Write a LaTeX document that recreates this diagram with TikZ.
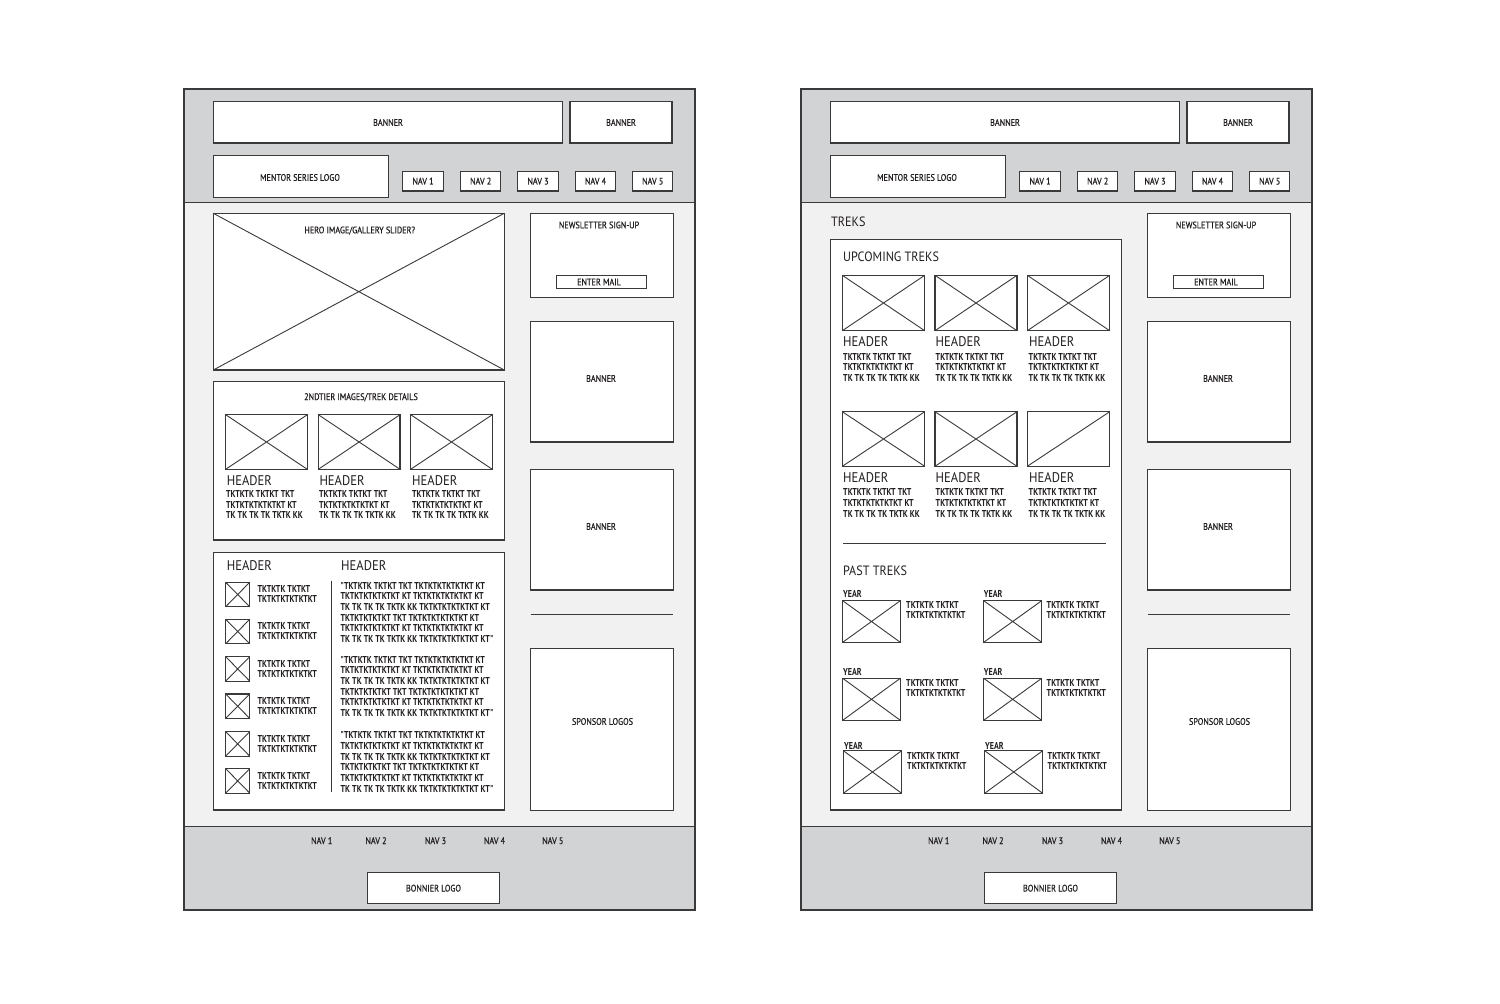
\documentclass[tikz,border=0pt]{standalone}
\usepackage{fontspec}
\setmainfont{PT Sans}[FakeStretch=0.88]
\newfontfamily\labf{PT Sans}[FakeStretch=0.86,FakeBold=0.6]
\newfontfamily\tkf{PT Sans}[FakeStretch=0.8]
\newfontfamily\hdf{PT Sans}[FakeStretch=0.9]
\definecolor{band}{HTML}{D1D3D4}
\definecolor{bgc}{HTML}{F1F1F2}
\definecolor{ink}{HTML}{231F20}
\definecolor{edge}{HTML}{3A3A3A}
\tikzset{
  wb/.style={draw=edge, fill=white, line width=1.1pt, inner sep=0pt, outer sep=0pt, text=ink, font=\labf\fontsize{9.5}{10}\selectfont},
  xl/.style={draw=edge, line width=0.9pt},
  sep/.style={draw=edge, line width=1pt},
  outerbox/.style={draw=edge, line width=1.2pt},
  lab/.style={inner sep=0pt, text=ink, font=\labf\fontsize{9.5}{10}\selectfont, anchor=base},
  tk/.style={inner sep=0pt, text=ink, font=\tkf\bfseries\fontsize{10}{10}\selectfont, anchor=base west},
  hd/.style={inner sep=0pt, text=ink, font=\hdf\fontsize{14}{15}\selectfont, anchor=base west},
  ttl/.style={inner sep=0pt, text=ink, font=\hdf\fontsize{13.5}{15}\selectfont, anchor=base west}
}
\newcommand\bx[6]{\node[wb,minimum width=#4pt-#2pt,minimum height=#5pt-#3pt] (#1) at ({(#2+#4)/2},{(#3+#5)/2}) {#6};}
\newcommand\ph[5]{\bx{#1}{#2}{#3}{#4}{#5}{}\draw[xl] (#1.north west)--(#1.south east) (#1.south west)--(#1.north east);}
\newcommand\phone[5]{\bx{#1}{#2}{#3}{#4}{#5}{}\draw[xl] (#1.south west)--(#1.north east);}
\newcommand\tl[6]{\foreach \s [count=\i] in {#6} \node[#1] (#2-\i) at (#3,{#4+(\i-1)*#5}) {\s};}
\newcommand\pg[2]{%
\begin{scope}[xshift=#2pt]
\fill[band] (184,89) rectangle (695,910);
\fill[bgc] (184,202) rectangle (695,826.5);
\draw[sep] (184,202)--(695,202) (184,826.5)--(695,826.5);
\bx{#1ban1}{213.3}{101.7}{562.7}{143}{}
\node[lab] (#1ban1t) at (388,125.8) {BANNER};
\bx{#1ban2}{570}{101.7}{672}{143}{}
\node[lab] (#1ban2t) at (621,125.8) {BANNER};
\bx{#1logo}{213.3}{155.7}{388.7}{197.3}{}
\node[lab] (#1logot) at (300,180.8) {MENTOR SERIES LOGO};
\bx{#1n1}{402.7}{171.3}{443.3}{191}{NAV 1}
\bx{#1n2}{460.7}{171.3}{500.7}{191}{NAV 2}
\bx{#1n3}{517.7}{171.3}{558.3}{191}{NAV 3}
\bx{#1n4}{575.3}{171.3}{615.7}{191}{NAV 4}
\bx{#1n5}{632.7}{171.3}{672.7}{191}{NAV 5}
\bx{#1news}{530.7}{213.3}{673.3}{297.3}{}
\node[lab] (#1newst) at (599,228.3) {NEWSLETTER SIGN-UP};
\bx{#1mail}{556.7}{275.7}{646.7}{288.3}{}
\node[lab] (#1mailt) at (599,285.3) {ENTER MAIL};
\bx{#1sb1}{530.7}{321.7}{673.3}{442}{}
\node[lab] (#1sb1t) at (601,381.8) {BANNER};
\bx{#1sb2}{530.7}{469.7}{673.3}{590}{}
\node[lab] (#1sb2t) at (601,529.8) {BANNER};
\coordinate (#1hra) at (530.7,614.3);
\coordinate (#1hrb) at (673.3,614.3);
\draw[sep] (#1hra)--(#1hrb);
\bx{#1spons}{530.7}{648.7}{673.3}{810.3}{}
\node[lab] (#1sponst) at (602.5,724.8) {SPONSOR LOGOS};
\node[lab] (#1f1) at (321.7,844) {NAV 1};
\node[lab] (#1f2) at (376,844) {NAV 2};
\node[lab] (#1f3) at (435.5,844) {NAV 3};
\node[lab] (#1f4) at (494.5,844) {NAV 4};
\node[lab] (#1f5) at (552.8,844) {NAV 5};
\bx{#1bon}{367.7}{872.3}{499.3}{903.7}{}
\node[lab] (#1bont) at (433.5,891.5) {BONNIER LOGO};
\draw[outerbox] (184,89) rectangle (695,910);
\end{scope}}
\begin{document}
\begin{tikzpicture}[x=1pt,y=-1pt]
\useasboundingbox (0,0) rectangle (1500,1004);
\fill[white] (0,0) rectangle (1500,1004);
\pg{L}{0}
\pg{R}{617}
% ---------- left page content
\ph{hero}{213.3}{213.3}{504.3}{370}
\node[lab] (herot) at (359.7,233.3) {HERO IMAGE/GALLERY SLIDER?};
\bx{tier}{213.3}{381.7}{504.3}{540}{}
\node[lab] (tiert) at (361,400) {2NDTIER IMAGES/TREK DETAILS};
\ph{ti1}{225.7}{414.7}{307.3}{469.3}
\ph{ti2}{318.3}{414.7}{400}{469.3}
\ph{ti3}{410.7}{414.7}{492.3}{469.3}
\node[hd] (th1) at (226.7,485.7) {HEADER};
\node[hd] (th2) at (319.3,485.7) {HEADER};
\node[hd] (th3) at (412,485.7) {HEADER};
\tl{tk}{tt1}{226}{497.3}{10.7}{TKTKTK TKTKT TKT,TKTKTKTKTKTKT KT,TK TK TK TK TKTK KK}
\tl{tk}{tt2}{319}{497.3}{10.7}{TKTKTK TKTKT TKT,TKTKTKTKTKTKT KT,TK TK TK TK TKTK KK}
\tl{tk}{tt3}{412}{497.3}{10.7}{TKTKTK TKTKT TKT,TKTKTKTKTKTKT KT,TK TK TK TK TKTK KK}
\bx{lower}{213.3}{552.7}{504.3}{810}{}
\node[hd] (lh1) at (226.7,570.7) {HEADER};
\node[hd] (lh2) at (341,570.7) {HEADER};
\foreach \k [count=\j] in {582.3,619.3,656.7,694,731.7,768.7}{
  \ph{ic\j}{225.7}{\k}{249.7}{\k+24.4}
  \tl{tk}{ict\j}{257.5}{\k+10.4}{10}{TKTKTK TKTKT,TKTKTKTKTKTKT}
}
\coordinate (vla) at (331.7,580.7);
\coordinate (vlb) at (331.7,791.7);
\draw[sep] (vla)--(vlb);
\foreach \b [count=\j] in {589.3,663.3,738.7}{
  \tl{tk}{q\j}{340.5}{\b}{10.67}{"TKTKTK TKTKT TKT TKTKTKTKTKTKT KT,TKTKTKTKTKTKT KT TKTKTKTKTKTKT KT,TK TK TK TK TKTK KK TKTKTKTKTKTKT KT,TKTKTKTKTKT TKT TKTKTKTKTKTKT KT,TKTKTKTKTKTKT KT TKTKTKTKTKTKT KT,TK TK TK TK TKTK KK TKTKTKTKTKTKT KT"}
}
% ---------- right page content
\node[ttl] (treks) at (831,226.7) {TREKS};
\bx{tbox}{830.3}{239.3}{1121.7}{810}{}
\node[ttl] (upc) at (843,261) {UPCOMING TREKS};
\ph{u1}{842.3}{275.3}{924.7}{330.7}
\ph{u2}{935}{275.3}{1017}{330.7}
\ph{u3}{1027.3}{275.3}{1109.7}{330.7}
\ph{u4}{842.3}{411.7}{924.7}{466.3}
\ph{u5}{935}{411.7}{1017}{466.3}
\phone{u6}{1027.3}{411.7}{1109.7}{466.3}
\node[hd] (uh1) at (843,346.7) {HEADER};
\node[hd] (uh2) at (935.5,346.7) {HEADER};
\node[hd] (uh3) at (1029,346.7) {HEADER};
\node[hd] (uh4) at (843,482.7) {HEADER};
\node[hd] (uh5) at (935.5,482.7) {HEADER};
\node[hd] (uh6) at (1029,482.7) {HEADER};
\tl{tk}{ut1}{843}{360}{10.8}{TKTKTK TKTKT TKT,TKTKTKTKTKTKT KT,TK TK TK TK TKTK KK}
\tl{tk}{ut2}{935.5}{360}{10.8}{TKTKTK TKTKT TKT,TKTKTKTKTKTKT KT,TK TK TK TK TKTK KK}
\tl{tk}{ut3}{1028.5}{360}{10.8}{TKTKTK TKTKT TKT,TKTKTKTKTKTKT KT,TK TK TK TK TKTK KK}
\tl{tk}{ut4}{843}{495.7}{10.8}{TKTKTK TKTKT TKT,TKTKTKTKTKTKT KT,TK TK TK TK TKTK KK}
\tl{tk}{ut5}{935.5}{495.7}{10.8}{TKTKTK TKTKT TKT,TKTKTKTKTKTKT KT,TK TK TK TK TKTK KK}
\tl{tk}{ut6}{1028.5}{495.7}{10.8}{TKTKTK TKTKT TKT,TKTKTKTKTKTKT KT,TK TK TK TK TKTK KK}
\coordinate (rla) at (843,543.3);
\coordinate (rlb) at (1106,543.3);
\draw[sep] (rla)--(rlb);
\node[ttl] (past) at (843,575) {PAST TREKS};
% past treks rows
\node[tk] (y1) at (843,597) {YEAR};
\node[tk] (y2) at (983.7,597) {YEAR};
\ph{p1}{842.7}{600.7}{900.3}{642.3}
\ph{p2}{983.7}{600.7}{1041.7}{642.3}
\tl{tk}{pt1}{906}{608.5}{10.3}{TKTKTK TKTKT,TKTKTKTKTKTKT}
\tl{tk}{pt2}{1046.5}{608.5}{10.3}{TKTKTK TKTKT,TKTKTKTKTKTKT}
\node[tk] (y3) at (843,675) {YEAR};
\node[tk] (y4) at (983.7,675) {YEAR};
\ph{p3}{842.7}{678.3}{900.3}{720.3}
\ph{p4}{983.7}{678.3}{1041.7}{720.3}
\tl{tk}{pt3}{906}{686}{10.3}{TKTKTK TKTKT,TKTKTKTKTKTKT}
\tl{tk}{pt4}{1046.5}{686}{10.3}{TKTKTK TKTKT,TKTKTKTKTKTKT}
\node[tk] (y5) at (844,749) {YEAR};
\node[tk] (y6) at (985,749) {YEAR};
\ph{p5}{843.3}{750.7}{901.7}{793.3}
\ph{p6}{984.7}{750.7}{1042.7}{793.3}
\tl{tk}{pt5}{907}{759}{10.3}{TKTKTK TKTKT,TKTKTKTKTKTKT}
\tl{tk}{pt6}{1047.5}{759}{10.3}{TKTKTK TKTKT,TKTKTKTKTKTKT}
\end{tikzpicture}
\end{document}
